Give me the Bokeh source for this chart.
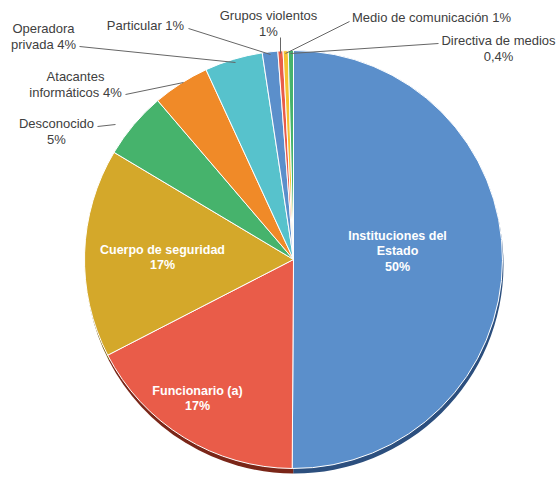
import numpy as np
from bokeh.plotting import figure
from bokeh.models import Range1d, ColumnDataSource
from bokeh.embed import file_html
from bokeh.resources import INLINE
from bokeh.core.properties import value

# ---------------- data ----------------
categories = ["Instituciones del Estado", "Funcionario (a)", "Cuerpo de seguridad",
              "Desconocido", "Atacantes informáticos", "Operadora privada",
              "Particular", "Grupos violentos", "Medio de comunicación",
              "Directiva de medios"]
shares = [50.3, 17.4, 16.2, 5.2, 4.4, 4.5, 1.2, 0.4, 0.4, 0.4]
pct_labels = ["50%", "17%", "17%", "5%", "4%", "4%", "1%", "1%", "1%", "0,4%"]

# label line breaks (text lines shown for each slice)
label_lines = [
    ["Instituciones del", "Estado", "50%"],
    ["Funcionario (a)", "17%"],
    ["Cuerpo de seguridad", "17%"],
    ["Desconocido", "5%"],
    ["Atacantes", "informáticos 4%"],
    ["Operadora", "privada 4%"],
    ["Particular 1%"],
    ["Grupos violentos", "1%"],
    ["Medio de comunicación 1%"],
    ["Directiva de medios", "0,4%"],
]

# ---------------- styles / layout ----------------
colors = ["#5B8FCB", "#E95C49", "#D4A82A", "#46B36C", "#F08A28",
          "#57C2CC", "#5B8FCB", "#E95C49", "#F5C132", "#46B36C"]
shadow_colors = ["#2C4F7E", "#7A2618", "#7A5F14", "#205A34", "#7A4210",
                 "#2A6066", "#2C4F7E", "#7A2618", "#7A6014", "#205A34"]
inside = [True, True, True, False, False, False, False, False, False, False]
label_x = [397, 197, 162, 56, 75, 43, 145, 268, 431, 498]
label_y0 = [235, 390, 249, 123, 76, 28, 25, 15, 17, 40]
line_step = 15.5
# leader lines: (text end) -> (pie end), in picture pixels
leaders = {
    3: (97, 126, 115, 124),
    4: (125, 94, 183, 82),
    5: (79, 46, 235, 62),
    6: (188, 28, 270, 54),
    7: (280, 37, 280, 53),
    8: (349, 21, 285, 53),
    9: (438, 43, 290, 53),
}

CX, CY, R = 293, 259, 209
W, H = 557, 478

p = figure(width=W, height=H, x_range=Range1d(0, W), y_range=Range1d(-H, 0),
           output_backend="svg", toolbar_location=None, min_border=0,
           x_axis_type=None, y_axis_type=None)
p.grid.visible = False
p.outline_line_color = None
p.background_fill_color = "white"
p.border_fill_color = "white"

# angles: clockwise from 12 o'clock
vals = np.array(shares, dtype=float)
frac = vals / vals.sum()
cum = np.concatenate([[0], np.cumsum(frac)]) * 2 * np.pi
cw_start = cum[:-1]
cw_end = cum[1:]
start_angle = np.pi / 2 - cw_end
end_angle = np.pi / 2 - cw_start

src = ColumnDataSource(dict(cat=categories, start=start_angle, end=end_angle,
                            color=colors, shadow=shadow_colors))

# shadow
p.wedge(x=CX + 1, y=-(CY + 5), radius=R, start_angle="start", end_angle="end",
        direction="anticlock", fill_color="shadow", line_color=None, source=src)
# slices
p.wedge(x=CX, y=-CY, radius=R, start_angle="start", end_angle="end",
        direction="anticlock", fill_color="color", line_color="white",
        line_width=1, source=src)

# leader lines
for i, (x0, y0, x1, y1) in leaders.items():
    p.segment(x0=[x0], y0=[-y0], x1=[x1], y1=[-y1], line_color="#666666", line_width=1)

# labels
for i, lines in enumerate(label_lines):
    for k, t in enumerate(lines):
        yy = label_y0[i] + k * line_step
        if inside[i]:
            p.text(x=[label_x[i]], y=[-yy], text=[t], text_align="center",
                   text_baseline="middle", text_color="white",
                   text_font=value("Liberation Sans"), text_font_style="bold",
                   text_font_size="12.5px")
        else:
            p.text(x=[label_x[i]], y=[-yy], text=[t], text_align="center",
                   text_baseline="middle", text_color="#404040",
                   text_font=value("Liberation Sans"), text_font_size="13px")

open("out.html", "w").write(file_html(p, INLINE))
